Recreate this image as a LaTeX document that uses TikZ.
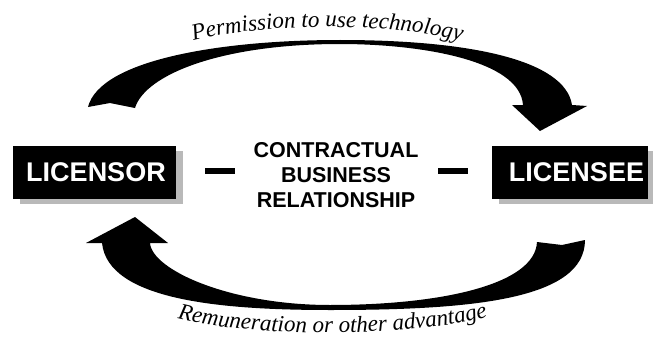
\documentclass[tikz,border=0pt]{standalone}
\usepackage{fontspec}
\setmainfont{Liberation Serif}
\setsansfont{Liberation Sans}
\usetikzlibrary{decorations.text,shadows}
\begin{document}
\begin{tikzpicture}[x=1pt,y=-1pt,
  party/.style={fill=black,text=white,font=\sffamily\bfseries\fontsize{27}{27}\selectfont,
     inner sep=0pt,minimum height=53pt,
     drop shadow={fill=gray!55,opacity=1,shadow xshift=7pt,shadow yshift=-5pt}},
  bigarrow/.style={fill=black},
  sepline/.style={line width=6pt},
  mid/.style={font=\sffamily\bfseries\fontsize{21.5}{25}\selectfont,align=center,inner sep=0pt},
  arctext/.style={decorate,decoration={text along path,text align=center,
     text={|\itshape\fontsize{23}{23}\selectfont|#1}}}
]
\useasboundingbox (0,0) rectangle (653,337);

% top arrow (licensor -> licensee)
\fill[bigarrow] (88,107) .. controls (100,60) and (220,40) .. (340,40)
  .. controls (470,40) and (565,60) .. (572,105)
  -- (587,106) -- (540,131) -- (512,105) -- (523,105)
  .. controls (520,60) and (420,44) .. (340,44)
  .. controls (220,44) and (145,75) .. (135,108)
  -- (110,103) -- cycle;

% bottom arrow (licensee -> licensor)
\fill[bigarrow] (135,217) -- (168,243) -- (150,243)
  .. controls (152,270) and (230,305) .. (330,305)
  .. controls (440,305) and (535,285) .. (537,242)
  -- (562,245) -- (585,240)
  .. controls (585,300) and (470,310) .. (330,310)
  .. controls (220,310) and (108,300) .. (102,243)
  -- (86,243) -- cycle;

% boxes
\node[party,minimum width=163pt] (licensor) at (94.5,172.5) {\hspace*{3pt}LICENSOR};
\node[party,minimum width=156pt] (licensee) at (570,172) {\hspace*{13pt}LICENSEE};
\node[mid] (rel) at (336,175) {CONTRACTUAL\\BUSINESS\\RELATIONSHIP};

% dashes
\draw[sepline] (205,171) -- (235,171);
\draw[sepline] (438,171) -- (468,171);

% arc texts
\path[arctext={Permission to use technology}] (190,42) .. controls (260,22) and (395,22) .. (465,42);
\path[arctext={Remuneration or other advantage}] (175,318) .. controls (250,338) and (410,338) .. (490,316);
\end{tikzpicture}
\end{document}
